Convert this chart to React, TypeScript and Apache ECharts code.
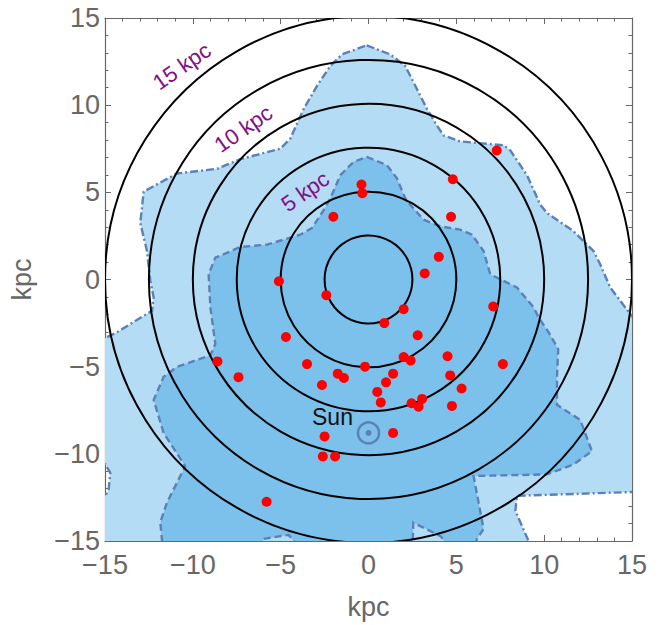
import React, { useEffect, useRef } from 'react';
import * as echarts from 'echarts';

// ---------- data (kpc) ----------
const tickValues = [-15, -10, -5, 0, 5, 10, 15];
const ringRadii = [2.5, 5, 7.5, 10, 12.5, 15];
const ringLabels = ['5 kpc', '10 kpc', '15 kpc'];
const ringLabelRadii = [5, 10, 15];
const ringLabelAngles = [125.5, 129.5, 131];

const starX = [-5.1, -2.4, -2.0, 7.3, 4.8, -0.4, -0.35, 4.7, 4.0, 3.2, 2.0, 7.1, 0.9, 2.8, 2.0, 2.4, 4.5, -0.2, -1.75, -1.4, 1.4, 4.65, 7.65, 1.0, 0.5, 5.3, 0.7, 2.45, 2.85, 3.05, 4.75, 1.4, -1.9, -4.7, -8.6, -7.4, -3.5, -2.65, -2.5, -2.6, -5.8];
const starY = [-0.1, -0.9, 3.6, 7.4, 5.75, 5.45, 4.95, 3.6, 1.3, 0.35, -1.7, -1.55, -2.5, -3.2, -4.45, -4.65, -4.4, -5.0, -5.4, -5.65, -5.4, -5.5, -4.85, -5.9, -6.45, -6.25, -7.05, -7.1, -7.3, -6.85, -7.25, -8.8, -10.15, -3.3, -4.7, -5.6, -4.85, -6.05, -9.0, -10.15, -12.75];

const sunPos = [0, -8.8];

const outerX = [-0.1, 1.24, 2.09, 2.76, 3.33, 3.9, 4.27, 5.22, 7.69, 8.07, 9.02, 9.78, 10.16, 11.67, 12.81, 13.19, 13.76, 14.9, 15.8, 15.8, 15.0, 8.45, 8.36, 9.11, 9.3, -15.8, -15.8, -14.98, -14.79, -14.7, -14.98, -15.8, -15.8, -15.27, -14.31, -12.32, -12.23, -12.42, -12.61, -12.99, -12.8, -10.9, -8.62, -7.3, -5.02, -4.45, -3.69, -2.93, -2.17, -1.51];
const outerY = [13.43, 12.91, 12.25, 10.92, 9.78, 8.83, 8.26, 7.92, 7.7, 7.41, 5.99, 4.28, 3.81, 2.77, 1.63, 0.87, -0.46, -1.98, -3.0, -12.17, -12.19, -12.41, -13.27, -15.0, -15.8, -15.8, -12.41, -12.41, -12.03, -11.09, -10.61, -10.5, -3.9, -3.5, -3.02, -1.79, -1.03, -0.08, 1.63, 3.24, 5.04, 6.08, 6.35, 6.9, 7.5, 8.08, 9.78, 11.11, 12.25, 12.91];

const innerX = [-0.09, 1.05, 1.62, 2.09, 2.38, 3.14, 4.09, 5.22, 5.89, 6.55, 6.93, 7.69, 8.45, 9.4, 9.68, 10.3, 10.8, 10.73, 10.73, 12.05, 12.72, 11.67, 10.16, 5.98, 6.55, 6.17, 5.9, 4.9, 4.1, 2.55, 2.5, -3.9, -4.26, -4.55, -5.97, -6.3, -11.7, -11.75, -11.85, -11.47, -10.43, -11.66, -12.23, -11.66, -10.9, -9.0, -8.72, -9.0, -9.1, -8.72, -7.3, -5.78, -3.88, -3.22, -2.6, -2.17, -1.6, -0.85];
const innerY = [7.03, 6.56, 5.8, 4.66, 4.28, 3.43, 3.05, 2.86, 2.57, 1.63, 0.3, -0.08, -0.46, -1.6, -2.17, -3.1, -4.0, -5.58, -7.19, -8.05, -9.85, -10.61, -11.18, -11.27, -14.31, -14.88, -15.8, -15.8, -14.72, -13.95, -15.8, -15.8, -15.0, -14.65, -14.88, -15.8, -15.8, -15.0, -13.93, -12.79, -10.71, -8.81, -6.91, -5.58, -5.01, -4.35, -3.69, -1.6, 0.3, 1.25, 1.86, 2.0, 2.57, 2.95, 3.9, 4.66, 5.99, 6.75];

// ---------- styles ----------
const FONT = '"Liberation Sans", Arial, Helvetica, sans-serif';
const LIGHT = '#b4dcf4';
const MEDIUM = '#7cc0ec';
const EDGE = '#5b80ba';
const AXIS = '#676767';

const fmt = (v: number) => {
  const t = tickValues.find((x) => x === v);
  if (t === undefined) return '';
  return t < 0 ? '\u2212' + Math.abs(t) : String(t);
};

function polygonSeries(xs: number[], ys: number[], fill: string, dash: number[], z: number) {
  return {
    type: 'custom',
    clip: true,
    z,
    silent: true,
    data: [[0, 0]],
    renderItem: (_params: any, api: any) => {
      const pts = xs.map((x, i) => api.coord([x, ys[i]]));
      return {
        type: 'polygon',
        shape: { points: pts },
        style: { fill, stroke: EDGE, lineWidth: 2.4, lineDash: dash },
      };
    },
  };
}

export default function App() {
  const ref = useRef<HTMLDivElement>(null);
  useEffect(() => {
    if (!ref.current) return;
    const chart = echarts.init(ref.current, undefined, { renderer: 'svg' });
    const axisCommon = {
      type: 'value',
      min: -15,
      max: 15,
      interval: 5,
      splitLine: { show: false },
      axisLine: { show: true, onZero: false, lineStyle: { color: AXIS, width: 1.2 } },
      axisTick: { show: true, inside: true, length: 6, lineStyle: { color: AXIS, width: 1 } },
      minorTick: { show: true, splitNumber: 5, length: 3.5, lineStyle: { color: AXIS, width: 1 } },
    };
    const option: any = {
      animation: false,
      grid: { left: 105, top: 18, width: 527, height: 527, containLabel: false },
      xAxis: [
        {
          ...axisCommon,
          position: 'bottom',
          name: 'kpc',
          nameLocation: 'middle',
          nameGap: 52,
          nameTextStyle: { fontFamily: FONT, fontSize: 27, color: AXIS },
          axisLabel: { formatter: fmt, fontFamily: FONT, fontSize: 27, color: AXIS, margin: 10 },
        },
        { ...axisCommon, position: 'top', axisLabel: { show: false } },
      ],
      yAxis: [
        {
          ...axisCommon,
          position: 'left',
          name: 'kpc',
          nameLocation: 'middle',
          nameGap: 70,
          nameTextStyle: { fontFamily: FONT, fontSize: 27, color: AXIS },
          axisLabel: { formatter: fmt, fontFamily: FONT, fontSize: 27, color: AXIS, margin: 5 },
        },
        { ...axisCommon, position: 'right', axisLabel: { show: false } },
      ],
      series: [
        polygonSeries(outerX, outerY, LIGHT, [8, 3, 2, 3], 1),
        polygonSeries(innerX, innerY, MEDIUM, [7, 4], 2),
        {
          type: 'custom',
          clip: true,
          z: 3,
          silent: true,
          data: ringRadii.map((r) => [r, 0]),
          renderItem: (_p: any, api: any) => {
            const r = api.value(0);
            const c = api.coord([0, 0]);
            const s = api.size([r, r]);
            return {
              type: 'circle',
              shape: { cx: c[0], cy: c[1], r: s[0] },
              style: { fill: 'none', stroke: '#000', lineWidth: 2 },
            };
          },
        },
        {
          type: 'custom',
          clip: false,
          z: 4,
          silent: true,
          data: ringLabelRadii.map((r, i) => [r, ringLabelAngles[i]]),
          renderItem: (p: any, api: any) => {
            const r = api.value(0) + 1.2;
            const a = (api.value(1) * Math.PI) / 180;
            const c = api.coord([r * Math.cos(a), r * Math.sin(a)]);
            return {
              type: 'text',
              x: c[0],
              y: c[1],
              rotation: (35 * Math.PI) / 180,
              style: {
                text: ringLabels[p.dataIndex],
                fill: '#850f85',
                font: `22px ${FONT}`,
                align: 'center',
                verticalAlign: 'middle',
              },
            };
          },
        },
        {
          type: 'scatter',
          z: 5,
          symbol: 'circle',
          symbolSize: 10,
          itemStyle: { color: '#ff0000', opacity: 1 },
          data: starX.map((x, i) => [x, starY[i]]),
        },
        {
          type: 'custom',
          clip: false,
          z: 6,
          silent: true,
          data: [sunPos],
          renderItem: (_p: any, api: any) => {
            const c = api.coord([api.value(0), api.value(1)]);
            return {
              type: 'group',
              children: [
                {
                  type: 'circle',
                  shape: { cx: c[0], cy: c[1], r: 10.5 },
                  style: { fill: 'none', stroke: EDGE, lineWidth: 2.5 },
                },
                {
                  type: 'circle',
                  shape: { cx: c[0], cy: c[1], r: 3 },
                  style: { fill: EDGE },
                },
                {
                  type: 'text',
                  x: c[0] - 36,
                  y: c[1] - 16,
                  style: {
                    text: 'Sun',
                    fill: '#111',
                    font: `23px ${FONT}`,
                    align: 'center',
                    verticalAlign: 'middle',
                  },
                },
              ],
            };
          },
        },
      ],
    };
    chart.setOption(option);
    return () => chart.dispose();
  }, []);
  return (
    <div
      ref={ref}
      style={{ position: 'fixed', left: 0, top: 0, width: 661, height: 625, background: '#fff' }}
    />
  );
}
